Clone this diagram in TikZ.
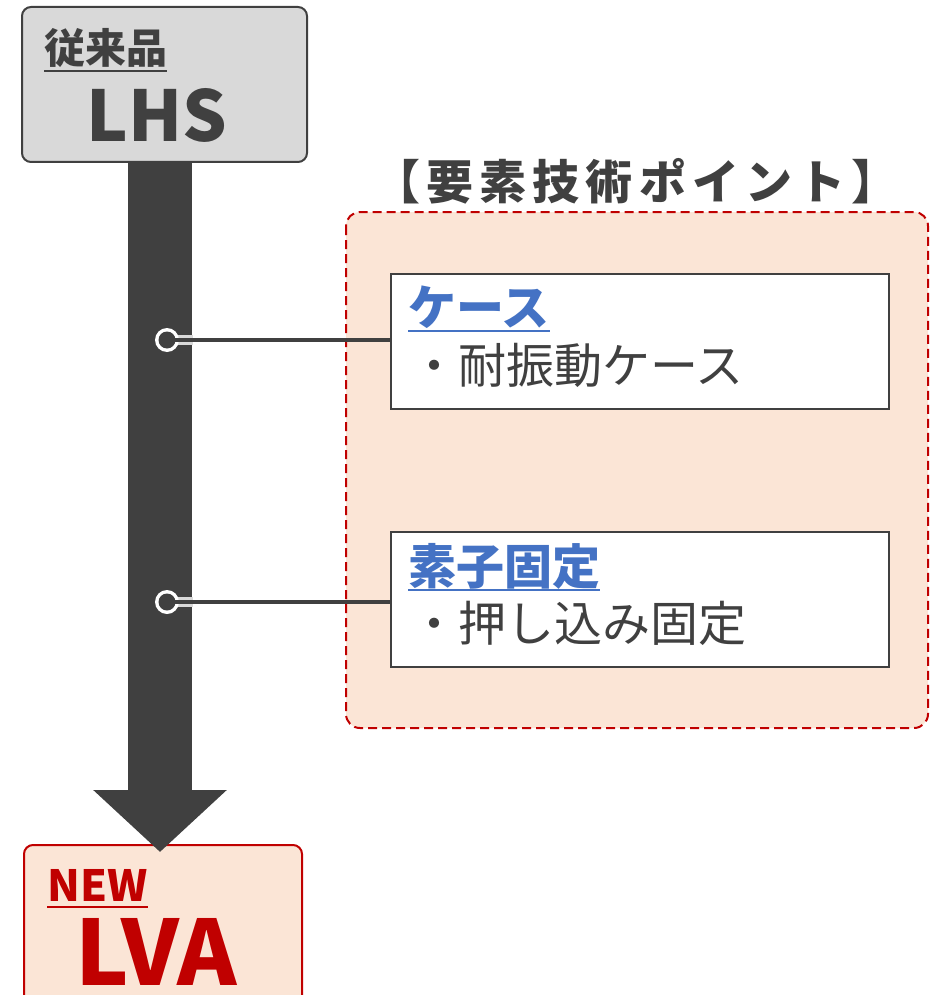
\documentclass[tikz,border=0pt]{standalone}
\usepackage{fontspec}
\setmainfont{Noto Sans CJK JP}
\usetikzlibrary{arrows.meta}
\definecolor{dk}{HTML}{404040}
\definecolor{lgray}{HTML}{D9D9D9}
\definecolor{peach}{HTML}{FBE5D6}
\definecolor{rd}{HTML}{C00000}
\definecolor{bl}{HTML}{4472C4}
\tikzset{
  prodbox/.style={rounded corners=9pt, line width=2pt},
  txt/.style={inner sep=0pt, anchor=base west},
  itembox/.style={draw=dk, line width=2pt, fill=white},
  conn/.style={draw=dk, line width=4pt},
}
\begin{document}
\begin{tikzpicture}[x=1pt,y=-1pt]
\useasboundingbox (0,0) rectangle (932,995);
% product boxes
\draw[prodbox, draw=dk, fill=lgray] (22,7) rectangle (307,162);
\node[inner sep=0pt, minimum width=285pt, minimum height=155pt, anchor=north west] (lhs) at (22,7) {};
\draw[prodbox, draw=rd, fill=peach] (24,845) rectangle (302,1020);
\node[inner sep=0pt, minimum width=278pt, minimum height=150pt, anchor=north west] (lva) at (24,845) {};
% texts of product boxes
\node[txt, text=dk, font=\fontsize{41}{41}\selectfont\bfseries] (jp) at (44,64) {従来品};
\draw[dk, line width=2.5pt] ([yshift=-7pt]jp.base west) -- ([yshift=-7pt]jp.base east);
\node[inner sep=0pt, anchor=base, text=dk, font=\fontsize{70}{70}\selectfont\bfseries] (lhst) at (157,142) {LHS};
\node[txt, text=rd, font=\fontsize{43}{43}\selectfont\bfseries] (nw) at (47,901) {NEW};
\draw[rd, line width=2.5pt] ([yshift=-6pt]nw.base west) -- ([yshift=-6pt]nw.base east);
\node[inner sep=0pt, anchor=base, text=rd, font=\fontsize{90}{90}\selectfont\bfseries] (lvat) at (156,985) {LVA};
% big arrow
\coordinate (tip) at (160,852);
\draw[dk, line width=64pt, -{Triangle[width=130pt,length=62pt]}] (lhs.south -| tip) -- (tip);
% key points panel
\node[inner sep=0pt, anchor=base, text=dk, font=\fontsize{47}{47}\selectfont\bfseries\addfontfeature{LetterSpace=13}] (title) at (636,200) {【要素技術ポイント】};
\draw[rd, fill=peach, line width=2pt, dash pattern=on 9pt off 5pt, rounded corners=14pt] (346,212) rectangle (928,728);
\node[itembox, inner sep=0pt, minimum width=498pt, minimum height=135pt, anchor=north west] (b1) at (390,273) {};
\node[itembox, inner sep=0pt, minimum width=498pt, minimum height=135pt, anchor=north west] (b2) at (390,531) {};
\node[txt, text=bl, font=\fontsize{48}{48}\selectfont\bfseries] (h1) at (408,325) {ケース};
\draw[bl, line width=2.5pt] ([yshift=-6pt]h1.base west) -- ([yshift=-6pt]h1.base east);
\node[txt, text=dk, font=\fontsize{48}{48}\selectfont] (t1) at (410,383) {・耐振動ケース};
\node[txt, text=bl, font=\fontsize{48}{48}\selectfont\bfseries] (h2) at (408,584) {素子固定};
\draw[bl, line width=2.5pt] ([yshift=-6pt]h2.base west) -- ([yshift=-6pt]h2.base east);
\node[txt, text=dk, font=\fontsize{48}{48}\selectfont] (t2) at (410,641) {・押し込み固定};
% connectors
\coordinate (d1) at (167,340);
\coordinate (d2) at (167,602);
\draw[white!80!dk, line width=10pt] (d1) -- (d1 -| lhs.south) -- ++(28,0);
\draw[white!80!dk, line width=10pt] (d2) -- (d2 -| lhs.south) -- ++(28,0);
\fill[white] (d1) circle[radius=12pt];
\fill[white] (d2) circle[radius=12pt];
\draw[conn] (d1) -- (d1 -| b1.west);
\draw[conn] (d2) -- (d2 -| b2.west);
\fill[dk] (d1) circle[radius=8.5pt];
\fill[dk] (d2) circle[radius=8.5pt];
\end{tikzpicture}
\end{document}
